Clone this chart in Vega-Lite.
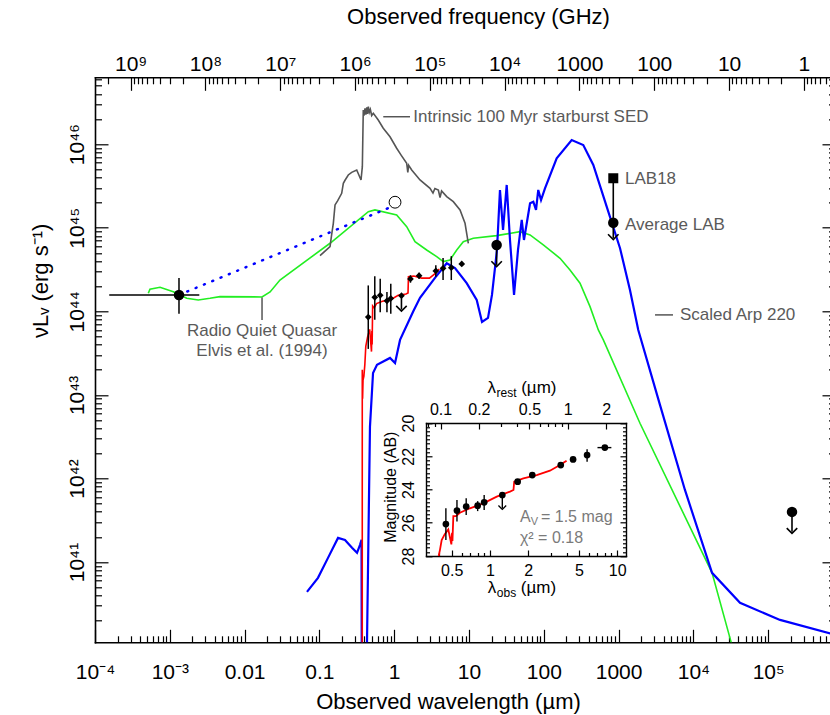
{
  "$schema": "https://vega.github.io/schema/vega-lite/v6.json",
  "width": 740,
  "height": 565,
  "autosize": {"type": "none"},
  "padding": {"left": 95, "top": 77.3, "right": 0, "bottom": 72.7},
  "background": "white",
  "config": {
    "view": {"stroke": null},
    "font": "Liberation Sans",
    "axis": {"grid": false, "domainColor": "black", "domainWidth": 1.6, "tickColor": "black", "tickWidth": 1.2, "labelColor": "black", "titleColor": "black", "labelFont": "Liberation Sans", "titleFont": "Liberation Sans", "titleFontWeight": "normal", "labelFlush": false, "labelOverlap": false, "labelBound": false, "domainCap": "square"},
    "text": {"font": "Liberation Sans"}
  },
  "datasets": {
    "frame": [{"lam": 1, "L": 1e43, "nu": 1, "mag": 24, "rest": 0.5}],
    "green": [
      {"o": 1, "lam": 0.000516, "L": 1.644e44}, {"o": 2, "lam": 0.000543, "L": 1.837e44}, {"o": 3, "lam": 0.00074, "L": 1.941e44},
      {"o": 4, "lam": 0.001114, "L": 1.718e44}, {"o": 5, "lam": 0.001683, "L": 1.432e44}, {"o": 6, "lam": 0.002404, "L": 1.368e44},
      {"o": 7, "lam": 0.00344, "L": 1.432e44}, {"o": 8, "lam": 0.00469, "L": 1.5e44}, {"o": 9, "lam": 0.0171, "L": 1.486e44},
      {"o": 10, "lam": 0.0219, "L": 1.706e44}, {"o": 11, "lam": 0.0297, "L": 2.37e44}, {"o": 12, "lam": 0.1387, "L": 6.52e44},
      {"o": 13, "lam": 0.451, "L": 1.556e45}, {"o": 14, "lam": 0.553, "L": 1.633e45}, {"o": 15, "lam": 1.079, "L": 1.422e45},
      {"o": 16, "lam": 1.469, "L": 1.03e45}, {"o": 17, "lam": 1.897, "L": 6.81e44}, {"o": 18, "lam": 2.716, "L": 5.42e44},
      {"o": 19, "lam": 3.7, "L": 4.51e44}, {"o": 20, "lam": 4.53, "L": 3.93e44}, {"o": 21, "lam": 5.57, "L": 4.12e44},
      {"o": 22, "lam": 6.855, "L": 5.42e44}, {"o": 23, "lam": 8.39, "L": 6.81e44}, {"o": 24, "lam": 11.4, "L": 7.48e44},
      {"o": 25, "lam": 23.4, "L": 8.04e44}, {"o": 26, "lam": 48.1, "L": 8.97e44}, {"o": 27, "lam": 65.5, "L": 8.2e44},
      {"o": 28, "lam": 98.4, "L": 6.22e44}, {"o": 29, "lam": 164.8, "L": 4.315e44}, {"o": 30, "lam": 223.9, "L": 3.126e44},
      {"o": 31, "lam": 304.8, "L": 2.168e44}, {"o": 32, "lam": 415, "L": 1.138e44}, {"o": 33, "lam": 535.8, "L": 5.98e43},
      {"o": 34, "lam": 625, "L": 4.55e43}, {"o": 35, "lam": 1932, "L": 4.58e42}, {"o": 36, "lam": 17750, "L": 7.43e40},
      {"o": 37, "lam": 31840, "L": 1.109e40}, {"o": 38, "lam": 50100, "L": 2.5e39}
    ],
    "gray": [
      {"o": 1, "lam": 0.1019, "L": 4.63e44}, {"o": 2, "lam": 0.1387, "L": 5.94e44}, {"o": 3, "lam": 0.145, "L": 8.0e44},
      {"o": 4, "lam": 0.1535, "L": 1.13e45}, {"o": 5, "lam": 0.1618, "L": 1.875e45}, {"o": 6, "lam": 0.175, "L": 2.1e45},
      {"o": 7, "lam": 0.1986, "L": 2.58e45}, {"o": 8, "lam": 0.2089, "L": 3.4e45}, {"o": 9, "lam": 0.22, "L": 3.7e45},
      {"o": 10, "lam": 0.2432, "L": 4.28e45}, {"o": 11, "lam": 0.27, "L": 4.6e45}, {"o": 12, "lam": 0.3155, "L": 4.91e45},
      {"o": 13, "lam": 0.36, "L": 3.73e45}, {"o": 14, "lam": 0.375, "L": 5.38e45}, {"o": 15, "lam": 0.386, "L": 2.56e46},
      {"o": 16, "lam": 0.395, "L": 2.2e46}, {"o": 17, "lam": 0.407, "L": 2.69e46}, {"o": 18, "lam": 0.418, "L": 2.25e46},
      {"o": 19, "lam": 0.43, "L": 2.75e46}, {"o": 20, "lam": 0.44, "L": 2.3e46},
      {"o": 21, "lam": 0.451, "L": 2.81e46}, {"o": 22, "lam": 0.465, "L": 2.4e46}, {"o": 23, "lam": 0.48, "L": 2.6e46}, {"o": 24, "lam": 0.5, "L": 2.2e46}, {"o": 25, "lam": 0.526, "L": 2.34e46},
      {"o": 26, "lam": 0.612, "L": 1.945e46}, {"o": 27, "lam": 0.714, "L": 1.55e46}, {"o": 28, "lam": 0.879, "L": 1.227e46},
      {"o": 29, "lam": 1.079, "L": 8.93e45}, {"o": 30, "lam": 1.25, "L": 7.3e45}, {"o": 31, "lam": 1.469, "L": 5.9e45},
      {"o": 32, "lam": 1.52, "L": 4.6e45}, {"o": 33, "lam": 1.56, "L": 5.6e45}, {"o": 34, "lam": 1.714, "L": 4.91e45},
      {"o": 35, "lam": 2.213, "L": 3.73e45}, {"o": 36, "lam": 3.013, "L": 2.965e45}, {"o": 37, "lam": 3.3, "L": 2.6e45},
      {"o": 38, "lam": 3.5, "L": 2.95e45}, {"o": 39, "lam": 3.89, "L": 2.83e45}, {"o": 40, "lam": 4.1, "L": 2.3e45},
      {"o": 41, "lam": 4.3, "L": 2.75e45}, {"o": 42, "lam": 5.035, "L": 2.355e45}, {"o": 43, "lam": 6.166, "L": 2.05e45},
      {"o": 44, "lam": 7.586, "L": 1.633e45}, {"o": 45, "lam": 8.85, "L": 1.13e45}, {"o": 46, "lam": 9.79, "L": 6.52e44}
    ],
    "blue": [
      {"o": 1, "lam": 0.0682, "L": 4.4e40}, {"o": 2, "lam": 0.0957, "L": 6.47e40}, {"o": 3, "lam": 0.1303, "L": 1.122e41},
      {"o": 4, "lam": 0.1774, "L": 1.945e41}, {"o": 5, "lam": 0.2198, "L": 1.84e41}, {"o": 6, "lam": 0.2729, "L": 1.479e41},
      {"o": 7, "lam": 0.3184, "L": 1.288e41}, {"o": 8, "lam": 0.3491, "L": 1.607e41}, {"o": 9, "lam": 0.3656, "L": 1.845e41},
      {"o": 10, "lam": 0.3715, "L": 1e38}, {"o": 11, "lam": 0.4027, "L": 1e38}, {"o": 12, "lam": 0.4742, "L": 4.14e42},
      {"o": 13, "lam": 0.5212, "L": 1.832e43}, {"o": 14, "lam": 0.5888, "L": 2.286e43}, {"o": 15, "lam": 0.879, "L": 2.767e43},
      {"o": 16, "lam": 1.026, "L": 2.41e43}, {"o": 17, "lam": 1.197, "L": 4.55e43}, {"o": 18, "lam": 1.8, "L": 1.0e44},
      {"o": 19, "lam": 2.213, "L": 1.45e44}, {"o": 20, "lam": 3.508, "L": 2.51e44}, {"o": 21, "lam": 5.035, "L": 3.76e44},
      {"o": 22, "lam": 6.5, "L": 3.3e44}, {"o": 23, "lam": 9.31, "L": 2.17e44}, {"o": 24, "lam": 12.68, "L": 1.368e44},
      {"o": 25, "lam": 14.93, "L": 7.46e43}, {"o": 26, "lam": 17.95, "L": 8.34e43}, {"o": 27, "lam": 20.28, "L": 1.57e44},
      {"o": 28, "lam": 23.66, "L": 5.42e44}, {"o": 29, "lam": 25.94, "L": 2.83e45}, {"o": 30, "lam": 28.51, "L": 9.4e44},
      {"o": 31, "lam": 31.92, "L": 3.25e45}, {"o": 32, "lam": 35.32, "L": 7.14e44}, {"o": 33, "lam": 40.0, "L": 1.57e44},
      {"o": 34, "lam": 45.19, "L": 5.42e44}, {"o": 35, "lam": 50.7, "L": 1.239e45}, {"o": 36, "lam": 54.3, "L": 7.14e44},
      {"o": 37, "lam": 65.5, "L": 1.963e45}, {"o": 38, "lam": 72.4, "L": 2.05e45}, {"o": 39, "lam": 78.7, "L": 1.633e45},
      {"o": 40, "lam": 84.3, "L": 2.83e45}, {"o": 41, "lam": 91.8, "L": 2.148e45}, {"o": 42, "lam": 103.7, "L": 2.965e45},
      {"o": 43, "lam": 148.6, "L": 6.78e45}, {"o": 44, "lam": 236, "L": 1.122e46}, {"o": 45, "lam": 337, "L": 9.77e45},
      {"o": 46, "lam": 459, "L": 5.64e45}, {"o": 47, "lam": 693, "L": 1.786e45}, {"o": 48, "lam": 1045, "L": 5.69e44},
      {"o": 49, "lam": 1419, "L": 1.803e44}, {"o": 50, "lam": 1832, "L": 5.98e43}, {"o": 51, "lam": 3573, "L": 7.59e42},
      {"o": 52, "lam": 7727, "L": 7.24e41}, {"o": 53, "lam": 17750, "L": 7.43e40}, {"o": 54, "lam": 41980, "L": 3.25e40},
      {"o": 55, "lam": 143900, "L": 2.03e40}, {"o": 56, "lam": 781600, "L": 1.35e40}
    ],
    "dotted": [{"o": 1, "lam": 0.001327, "L": 1.57e44}, {"o": 2, "lam": 0.927, "L": 1.786e45}],
    "red": [
      {"o": 1, "lam": 0.374, "L": 1e38}, {"o": 2, "lam": 0.3742, "L": 2.0e43}, {"o": 3, "lam": 0.378, "L": 9e42},
      {"o": 4, "lam": 0.383, "L": 1.5e43}, {"o": 5, "lam": 0.393, "L": 1.67e43}, {"o": 6, "lam": 0.405, "L": 2.3e43},
      {"o": 7, "lam": 0.417, "L": 3.8e43}, {"o": 8, "lam": 0.44, "L": 4.9e43}, {"o": 9, "lam": 0.47, "L": 6.08e43},
      {"o": 10, "lam": 0.485, "L": 4.3e43}, {"o": 11, "lam": 0.497, "L": 3.3e43}, {"o": 12, "lam": 0.503, "L": 5.8e43},
      {"o": 13, "lam": 0.507, "L": 4.0e43}, {"o": 14, "lam": 0.515, "L": 1.159e44}, {"o": 15, "lam": 0.54, "L": 1.1e44},
      {"o": 16, "lam": 0.58, "L": 1.239e44}, {"o": 17, "lam": 0.696, "L": 1.321e44}, {"o": 18, "lam": 0.886, "L": 1.371e44},
      {"o": 19, "lam": 1.13, "L": 1.552e44}, {"o": 20, "lam": 1.436, "L": 1.61e44}, {"o": 21, "lam": 1.53, "L": 1.656e44},
      {"o": 22, "lam": 1.55, "L": 2.59e44}, {"o": 23, "lam": 1.83, "L": 2.64e44}, {"o": 24, "lam": 2.33, "L": 2.495e44},
      {"o": 25, "lam": 2.96, "L": 2.495e44}, {"o": 26, "lam": 3.55, "L": 2.84e44}, {"o": 27, "lam": 4.0, "L": 3.21e44}
    ],
    "dia": [
      {"lam": 0.45, "L": 8.53e43}, {"lam": 0.55, "L": 1.472e44}, {"lam": 0.65, "L": 1.552e44}, {"lam": 0.8, "L": 1.334e44},
      {"lam": 0.9, "L": 1.426e44}, {"lam": 1.25, "L": 1.538e44}, {"lam": 1.65, "L": 2.44e44}, {"lam": 2.15, "L": 2.67e44},
      {"lam": 3.6, "L": 3.04e44}, {"lam": 4.5, "L": 3.27e44}, {"lam": 5.8, "L": 3.33e44}, {"lam": 8.0, "L": 3.69e44}
    ],
    "diaerr": [
      {"lam": 0.45, "L": 3.55e43, "L2": 2.04e44}, {"lam": 0.55, "L": 7.94e43, "L2": 2.63e44}, {"lam": 0.65, "L": 9.77e43, "L2": 2.455e44},
      {"lam": 0.8, "L": 9.77e43, "L2": 1.7e44}, {"lam": 0.9, "L": 9.33e43, "L2": 2.14e44}, {"lam": 1.65, "L": 2.2e44, "L2": 2.7e44},
      {"lam": 2.15, "L": 2.45e44, "L2": 2.9e44}, {"lam": 3.6, "L": 2.6e44, "L2": 3.57e44}, {"lam": 4.5, "L": 2.37e44, "L2": 4.345e44},
      {"lam": 5.8, "L": 2.37e44, "L2": 4.57e44}
    ],
    "xrayv": [{"lam": 0.001327, "L": 9.33e43, "L2": 2.51e44}],
    "xrayh": [{"lam": 0.000155, "lam2": 0.00248, "L": 1.57e44}],
    "big": [{"lam": 0.001327, "L": 1.57e44}, {"lam": 23.4, "L": 6.22e44}, {"lam": 849, "L": 1.15e45}, {"lam": 208000, "L": 3.98e41}],
    "arr": [{"lam": 23.4, "L": 6.22e44, "L2": 3.59e44}, {"lam": 849, "L": 1.15e45, "L2": 7.55e44}, {"lam": 208000, "L": 3.98e41, "L2": 2.3e41}, {"lam": 1.25, "L": 1.538e44, "L2": 1.05e44}, {"lam": 849, "L": 3.91e45, "L2": 1.15e45}],
    "tips": [{"lam": 23.4, "L": 3.59e44}, {"lam": 849, "L": 7.55e44}, {"lam": 208000, "L": 2.3e41}, {"lam": 1.25, "L": 1.05e44}],
    "sq": [{"lam": 849, "L": 3.91e45}],
    "opencirc": [{"lam": 1.026, "L": 2.02e45}],
    "alines": [
      {"lam": 0.714, "lam2": 1.626, "L": 2.13e46, "L2": 2.13e46},
      {"lam": 3069, "lam2": 5333, "L": 9.06e43, "L2": 9.06e43},
      {"lam": 0.0171, "lam2": 0.0171, "L": 1.46e44, "L2": 7.89e43}
    ],
    "atextL": [
      {"lam": 1.8, "L": 2.13e46, "t": "Intrinsic 100 Myr starburst SED"},
      {"lam": 1218, "L": 3.8e45, "t": "LAB18"},
      {"lam": 1218, "L": 1.08e45, "t": "Average LAB"},
      {"lam": 6622, "L": 9.06e43, "t": "Scaled Arp 220"}
    ],
    "atextC": [
      {"lam": 0.0171, "L": 5.82e43, "t": "Radio Quiet Quasar"},
      {"lam": 0.0171, "L": 3.36e43, "t": "Elvis et al. (1994)"}
    ],
    "inred": [
      {"o": 1, "lam": 0.395, "mag": 28.0}, {"o": 2, "lam": 0.405, "mag": 27.6}, {"o": 3, "lam": 0.417, "mag": 27.04},
      {"o": 4, "lam": 0.44, "mag": 26.7}, {"o": 5, "lam": 0.47, "mag": 26.4}, {"o": 6, "lam": 0.485, "mag": 26.9},
      {"o": 7, "lam": 0.497, "mag": 27.3}, {"o": 8, "lam": 0.503, "mag": 26.6}, {"o": 9, "lam": 0.507, "mag": 27.1},
      {"o": 10, "lam": 0.515, "mag": 25.6}, {"o": 11, "lam": 0.54, "mag": 25.6}, {"o": 12, "lam": 0.58, "mag": 25.4},
      {"o": 13, "lam": 0.696, "mag": 25.13}, {"o": 14, "lam": 0.886, "mag": 24.83}, {"o": 15, "lam": 1.13, "mag": 24.43},
      {"o": 16, "lam": 1.436, "mag": 24.13}, {"o": 17, "lam": 1.53, "mag": 24.03}, {"o": 18, "lam": 1.55, "mag": 23.53},
      {"o": 19, "lam": 1.83, "mag": 23.33}, {"o": 20, "lam": 2.33, "mag": 23.13}, {"o": 21, "lam": 2.96, "mag": 22.87},
      {"o": 22, "lam": 3.55, "mag": 22.53}, {"o": 23, "lam": 4.0, "mag": 22.27}
    ],
    "ipts": [
      {"lam": 0.45, "mag": 26.08}, {"lam": 0.55, "mag": 25.27}, {"lam": 0.65, "mag": 25.03}, {"lam": 0.8, "mag": 24.97},
      {"lam": 0.9, "mag": 24.77}, {"lam": 1.25, "mag": 24.33}, {"lam": 1.65, "mag": 23.53}, {"lam": 2.15, "mag": 23.13},
      {"lam": 3.6, "mag": 22.53}, {"lam": 4.5, "mag": 22.19}, {"lam": 5.8, "mag": 21.93}, {"lam": 8.0, "mag": 21.48}
    ],
    "ierr": [
      {"lam": 0.45, "mag": 25.13, "mag2": 27.04}, {"lam": 0.55, "mag": 24.63, "mag2": 25.93}, {"lam": 0.65, "mag": 24.53, "mag2": 25.53},
      {"lam": 0.8, "mag": 24.7, "mag2": 25.3}, {"lam": 0.9, "mag": 24.33, "mag2": 25.23}, {"lam": 1.65, "mag": 23.43, "mag2": 23.63},
      {"lam": 2.15, "mag": 23.05, "mag2": 23.21}, {"lam": 3.6, "mag": 22.38, "mag2": 22.68}, {"lam": 4.5, "mag": 22.05, "mag2": 22.33},
      {"lam": 5.8, "mag": 21.58, "mag2": 22.33}, {"lam": 1.25, "mag": 24.33, "mag2": 25.13}
    ],
    "iherr": [{"lam": 7.0, "lam2": 9.0, "mag": 21.48}],
    "itip": [{"lam": 1.25, "mag": 25.13}]
  },
  "resolve": {"scale": {"x": "independent", "y": "independent"}},
  "layer": [
    {
      "encoding": {
        "x": {"field": "lam", "type": "quantitative", "scale": {"type": "log", "domain": [0.0001, 781600], "nice": false},
          "axis": {"orient": "bottom", "values": [0.0001, 0.001, 0.01, 0.1, 1, 10, 100, 1000, 10000, 100000], "tickSize": -13, "labelFontSize": 21, "labelPadding": 32,
            "labelExpr": "['10⁻⁴','10⁻³','0.01','0.1','1','10','100','1000','10⁴','10⁵'][round(log(datum.value)/LN10)+4]",
            "title": "Observed wavelength (µm)", "titleFontSize": 22, "titleX": 353, "titleY": 59, "titleBaseline": "middle", "titleAlign": "center"}},
        "y": {"field": "L", "type": "quantitative", "scale": {"type": "log", "domain": [1.096e40, 6.31e46], "nice": false},
          "axis": {"orient": "left", "values": [1e41, 1e42, 1e43, 1e44, 1e45, 1e46], "tickSize": -13, "labelFontSize": 21, "labelPadding": 21, "labelAngle": -90, "labelAlign": "center", "labelBaseline": "bottom",
            "labelExpr": "'10' + ['⁴¹','⁴²','⁴³','⁴⁴','⁴⁵','⁴⁶'][round(log(datum.value)/LN10)-41]",
            "title": "νLᵥ (erg s⁻¹)", "titleFontSize": 22, "titleX": -55, "titleY": 203, "titleAngle": -90, "titleBaseline": "middle", "titleAlign": "center"}}
      },
      "layer": [
        {"data": {"name": "green"}, "mark": {"type": "line", "color": "#22ee22", "strokeWidth": 1.6, "clip": true}, "encoding": {"order": {"field": "o"}}},
        {"data": {"name": "gray"}, "mark": {"type": "line", "color": "#555555", "strokeWidth": 1.6, "clip": true}, "encoding": {"order": {"field": "o"}}},
        {"data": {"name": "blue"}, "mark": {"type": "line", "color": "#0000ff", "strokeWidth": 2.2, "clip": true}, "encoding": {"order": {"field": "o"}}},
        {"data": {"name": "dotted"}, "mark": {"type": "line", "color": "#0000ff", "strokeWidth": 2.5, "strokeDash": [1, 8], "strokeCap": "round"}, "encoding": {"order": {"field": "o"}}},
        {"data": {"name": "red"}, "mark": {"type": "line", "color": "#ff0000", "strokeWidth": 1.6, "clip": true}, "encoding": {"order": {"field": "o"}}},
        {"data": {"name": "xrayv"}, "mark": {"type": "rule", "color": "black", "strokeWidth": 1.5}, "encoding": {"y2": {"field": "L2"}}},
        {"data": {"name": "xrayh"}, "mark": {"type": "rule", "color": "black", "strokeWidth": 1.5}, "encoding": {"x2": {"field": "lam2"}}},
        {"data": {"name": "diaerr"}, "mark": {"type": "rule", "color": "black", "strokeWidth": 1.5}, "encoding": {"y2": {"field": "L2"}}},
        {"data": {"name": "dia"}, "mark": {"type": "point", "shape": "diamond", "filled": true, "color": "black", "size": 45, "opacity": 1}},
        {"data": {"name": "arr"}, "mark": {"type": "rule", "color": "black", "strokeWidth": 1.6}, "encoding": {"y2": {"field": "L2"}}},
        {"data": {"name": "tips"}, "mark": {"type": "point", "shape": "M-1,-0.7L0,0.3L1,-0.7", "filled": false, "color": "black", "strokeWidth": 1.6, "size": 110, "opacity": 1}},
        {"data": {"name": "big"}, "mark": {"type": "point", "shape": "circle", "filled": true, "color": "black", "size": 110, "opacity": 1}},
        {"data": {"name": "sq"}, "mark": {"type": "point", "shape": "square", "filled": true, "color": "black", "size": 100, "opacity": 1}},
        {"data": {"name": "opencirc"}, "mark": {"type": "point", "shape": "circle", "filled": false, "color": "black", "strokeWidth": 1, "size": 140, "opacity": 1}},
        {"data": {"name": "alines"}, "mark": {"type": "rule", "color": "#555555", "strokeWidth": 1.5}, "encoding": {"x2": {"field": "lam2"}, "y2": {"field": "L2"}}},
        {"data": {"name": "atextL"}, "mark": {"type": "text", "align": "left", "baseline": "middle", "fontSize": 17, "color": "#5a5a5a"}, "encoding": {"text": {"field": "t"}}},
        {"data": {"name": "atextC"}, "mark": {"type": "text", "align": "center", "baseline": "middle", "fontSize": 17, "color": "#5a5a5a"}, "encoding": {"text": {"field": "t"}}}
      ]
    },
    {
      "data": {"name": "frame"},
      "mark": {"type": "point", "opacity": 0},
      "encoding": {
        "x": {"field": "lam", "type": "quantitative", "scale": {"type": "log", "domain": [0.0001, 781600], "nice": false},
          "axis": {"orient": "bottom", "tickSize": -6.5, "labels": false, "title": null, "domain": false,
            "values": [0.0002,0.0003,0.0004,0.0005,0.0006,0.0007,0.0008,0.0009,0.002,0.003,0.004,0.005,0.006,0.007,0.008,0.009,0.02,0.03,0.04,0.05,0.06,0.07,0.08,0.09,0.2,0.3,0.4,0.5,0.6,0.7,0.8,0.9,2,3,4,5,6,7,8,9,20,30,40,50,60,70,80,90,200,300,400,500,600,700,800,900,2000,3000,4000,5000,6000,7000,8000,9000,20000,30000,40000,50000,60000,70000,80000,90000,200000,300000,400000,500000,600000,700000]}},
        "y": {"field": "L", "type": "quantitative", "scale": {"type": "log", "domain": [1.096e40, 6.31e46], "nice": false},
          "axis": {"orient": "left", "tickSize": -6.5, "labels": false, "title": null, "domain": false,
            "values": [2e40,3e40,4e40,5e40,6e40,7e40,8e40,9e40,2e41,3e41,4e41,5e41,6e41,7e41,8e41,9e41,2e42,3e42,4e42,5e42,6e42,7e42,8e42,9e42,2e43,3e43,4e43,5e43,6e43,7e43,8e43,9e43,2e44,3e44,4e44,5e44,6e44,7e44,8e44,9e44,2e45,3e45,4e45,5e45,6e45,7e45,8e45,9e45,2e46,3e46,4e46,5e46,6e46]}}
      }
    },
    {
      "data": {"name": "frame"},
      "mark": {"type": "point", "opacity": 0},
      "encoding": {
        "x": {"field": "nu", "type": "quantitative", "scale": {"type": "log", "domain": [2998000000, 0.3836], "nice": false},
          "axis": {"orient": "top", "values": [1, 10, 100, 1000, 10000, 100000, 1000000, 10000000, 100000000, 1000000000], "tickSize": -13, "labelFontSize": 21, "labelPadding": 16,
            "labelExpr": "['1','10','100','1000','10⁴','10⁵','10⁶','10⁷','10⁸','10⁹'][round(log(datum.value)/LN10)]",
            "title": "Observed frequency (GHz)", "titleFontSize": 22, "titleX": 383, "titleY": -61.3, "titleBaseline": "middle", "titleAlign": "center"}},
        "y": {"field": "L", "type": "quantitative", "scale": {"type": "log", "domain": [1.096e40, 6.31e46], "nice": false},
          "axis": {"orient": "right", "values": [1e41, 1e42, 1e43, 1e44, 1e45, 1e46], "tickSize": -13, "labels": false, "title": null}}
      }
    },
    {
      "data": {"name": "frame"},
      "mark": {"type": "point", "opacity": 0},
      "encoding": {
        "x": {"field": "nu", "type": "quantitative", "scale": {"type": "log", "domain": [2998000000, 0.3836], "nice": false},
          "axis": {"orient": "top", "tickSize": -6.5, "labels": false, "title": null, "domain": false,
            "values": [0.4,0.5,0.6,0.7,0.8,0.9,2,3,4,5,6,7,8,9,20,30,40,50,60,70,80,90,200,300,400,500,600,700,800,900,2000,3000,4000,5000,6000,7000,8000,9000,20000,30000,40000,50000,60000,70000,80000,90000,200000,300000,400000,500000,600000,700000,800000,900000,2000000,3000000,4000000,5000000,6000000,7000000,8000000,9000000,20000000,30000000,40000000,50000000,60000000,70000000,80000000,90000000,200000000,300000000,400000000,500000000,600000000,700000000,800000000,900000000,2000000000]}},
        "y": {"field": "L", "type": "quantitative", "scale": {"type": "log", "domain": [1.096e40, 6.31e46], "nice": false},
          "axis": {"orient": "right", "tickSize": -6.5, "labels": false, "title": null, "domain": false,
            "values": [2e40,3e40,4e40,5e40,6e40,7e40,8e40,9e40,2e41,3e41,4e41,5e41,6e41,7e41,8e41,9e41,2e42,3e42,4e42,5e42,6e42,7e42,8e42,9e42,2e43,3e43,4e43,5e43,6e43,7e43,8e43,9e43,2e44,3e44,4e44,5e44,6e44,7e44,8e44,9e44,2e45,3e45,4e45,5e45,6e45,7e45,8e45,9e45,2e46,3e46,4e46,5e46,6e46]}}
      }
    },
    {
      "encoding": {
        "x": {"field": "lam", "type": "quantitative", "scale": {"type": "log", "domain": [0.314, 11.73], "range": [331, 531], "nice": false},
          "axis": {"orient": "bottom", "offset": -86.3, "values": [0.5, 1, 2, 5, 10], "format": "~g", "tickSize": -6, "labelFontSize": 16, "labelPadding": 12, "title": null, "domainWidth": 1.4}},
        "y": {"field": "mag", "type": "quantitative", "scale": {"type": "linear", "domain": [20, 28], "range": [345.7, 478.7], "nice": false, "zero": false},
          "axis": {"orient": "left", "offset": -331, "values": [20, 22, 24, 26, 28], "tickSize": -6, "labelFontSize": 16, "labelPadding": 16, "labelAngle": -90, "labelAlign": "center", "labelBaseline": "bottom", "domainWidth": 1.4,
            "title": "Magnitude (AB)", "titleFontSize": 16, "titleX": -36, "titleY": 409.4, "titleAngle": -90, "titleBaseline": "middle", "titleAlign": "center"}}
      },
      "layer": [
        {"data": {"name": "inred"}, "mark": {"type": "line", "color": "#ff0000", "strokeWidth": 1.8}, "encoding": {"order": {"field": "o"}}},
        {"data": {"name": "ierr"}, "mark": {"type": "rule", "color": "black", "strokeWidth": 1.4}, "encoding": {"y2": {"field": "mag2"}}},
        {"data": {"name": "iherr"}, "mark": {"type": "rule", "color": "black", "strokeWidth": 1.4}, "encoding": {"x2": {"field": "lam2"}}},
        {"data": {"name": "ipts"}, "mark": {"type": "point", "shape": "circle", "filled": true, "color": "black", "size": 45, "opacity": 1}},
        {"data": {"name": "itip"}, "mark": {"type": "point", "shape": "M-1,-0.7L0,0.3L1,-0.7", "filled": false, "color": "black", "strokeWidth": 1.3, "size": 60, "opacity": 1}},
        {"data": {"values": [{"lam": 1.72, "mag": 25.64, "t": "A"}]}, "mark": {"type": "text", "align": "left", "baseline": "middle", "fontSize": 16, "color": "#7a7a7a"}, "encoding": {"text": {"field": "t"}}},
        {"data": {"values": [{"lam": 1.72, "mag": 25.64, "t": "V"}]}, "mark": {"type": "text", "align": "left", "baseline": "middle", "fontSize": 11, "dx": 10.7, "dy": 5, "color": "#7a7a7a"}, "encoding": {"text": {"field": "t"}}},
        {"data": {"values": [{"lam": 1.72, "mag": 25.64, "t": "= 1.5 mag"}]}, "mark": {"type": "text", "align": "left", "baseline": "middle", "fontSize": 16, "dx": 21, "color": "#7a7a7a"}, "encoding": {"text": {"field": "t"}}},
        {"data": {"values": [{"lam": 1.72, "mag": 26.94, "t": "χ² = 0.18"}]}, "mark": {"type": "text", "align": "left", "baseline": "middle", "fontSize": 16, "color": "#7a7a7a"}, "encoding": {"text": {"field": "t"}}},
        {"data": {"values": [{"lam": 0.961, "mag": 29.94, "t": "λ"}, {"lam": 0.956, "mag": 17.91, "t": "λ"}]}, "mark": {"type": "text", "align": "left", "baseline": "middle", "fontSize": 17, "color": "black"}, "encoding": {"text": {"field": "t"}}},
        {"data": {"values": [{"lam": 0.961, "mag": 29.94, "t": "obs"}, {"lam": 0.956, "mag": 17.91, "t": "rest"}]}, "mark": {"type": "text", "align": "left", "baseline": "middle", "fontSize": 12, "dx": 9, "dy": 5, "color": "black"}, "encoding": {"text": {"field": "t"}}},
        {"data": {"values": [{"lam": 0.961, "mag": 29.94, "t": "(µm)"}]}, "mark": {"type": "text", "align": "left", "baseline": "middle", "fontSize": 17, "dx": 33, "color": "black"}, "encoding": {"text": {"field": "t"}}},
        {"data": {"values": [{"lam": 0.956, "mag": 17.91, "t": "(µm)"}]}, "mark": {"type": "text", "align": "left", "baseline": "middle", "fontSize": 17, "dx": 33.7, "color": "black"}, "encoding": {"text": {"field": "t"}}}
      ]
    },
    {
      "data": {"name": "frame"},
      "mark": {"type": "point", "opacity": 0},
      "encoding": {
        "x": {"field": "lam", "type": "quantitative", "scale": {"type": "log", "domain": [0.314, 11.73], "range": [331, 531], "nice": false},
          "axis": {"orient": "bottom", "offset": -86.3, "values": [0.4, 0.6, 0.7, 0.8, 0.9, 3, 4, 6, 7, 8, 9], "tickSize": -3.5, "labels": false, "title": null, "domain": false}},
        "y": {"field": "mag", "type": "quantitative", "scale": {"type": "linear", "domain": [20, 28], "range": [345.7, 478.7], "nice": false, "zero": false},
          "axis": {"orient": "left", "offset": -331, "values": [20.25,20.5,20.75,21,21.25,21.5,21.75,22.25,22.5,22.75,23,23.25,23.5,23.75,24.25,24.5,24.75,25,25.25,25.5,25.75,26.25,26.5,26.75,27,27.25,27.5,27.75], "tickSize": -3.5, "labels": false, "title": null, "domain": false}}
      }
    },
    {
      "data": {"name": "frame"},
      "mark": {"type": "point", "opacity": 0},
      "encoding": {
        "x": {"field": "rest", "type": "quantitative", "scale": {"type": "log", "domain": [0.0768, 2.868], "range": [331, 531], "nice": false},
          "axis": {"orient": "top", "offset": -345.7, "values": [0.1, 0.2, 0.5, 1, 2], "format": "~g", "tickSize": -6, "labelFontSize": 16, "labelPadding": 12, "title": null, "domainWidth": 1.4}},
        "y": {"field": "mag", "type": "quantitative", "scale": {"type": "linear", "domain": [20, 28], "range": [345.7, 478.7], "nice": false, "zero": false},
          "axis": {"orient": "right", "offset": -209, "values": [20, 22, 24, 26, 28], "tickSize": -6, "labels": false, "title": null, "domainWidth": 1.4}}
      }
    },
    {
      "data": {"name": "frame"},
      "mark": {"type": "point", "opacity": 0},
      "encoding": {
        "x": {"field": "rest", "type": "quantitative", "scale": {"type": "log", "domain": [0.0768, 2.868], "range": [331, 531], "nice": false},
          "axis": {"orient": "top", "offset": -345.7, "values": [0.08, 0.09, 0.3, 0.4, 0.6, 0.7, 0.8, 0.9], "tickSize": -3.5, "labels": false, "title": null, "domain": false}},
        "y": {"field": "mag", "type": "quantitative", "scale": {"type": "linear", "domain": [20, 28], "range": [345.7, 478.7], "nice": false, "zero": false},
          "axis": {"orient": "right", "offset": -209, "values": [20.25,20.5,20.75,21,21.25,21.5,21.75,22.25,22.5,22.75,23,23.25,23.5,23.75,24.25,24.5,24.75,25,25.25,25.5,25.75,26.25,26.5,26.75,27,27.25,27.5,27.75], "tickSize": -3.5, "labels": false, "title": null, "domain": false}}
      }
    }
  ]
}
